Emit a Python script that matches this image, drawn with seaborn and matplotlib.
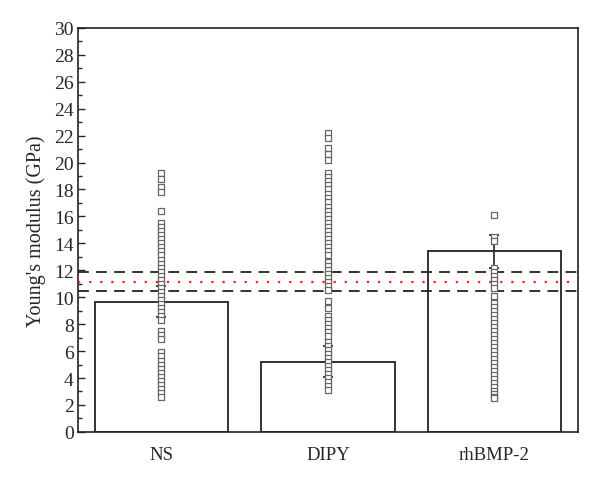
import matplotlib
matplotlib.use('Agg')
from matplotlib import pyplot as plt
from matplotlib.ticker import MultipleLocator
import pandas as pd
import seaborn as sns

groups = ['NS', 'DIPY', 'rhBMP-2']
means = [9.65, 5.2, 13.4]
errors = [1.15, 1.15, 1.2]

ns_vals = [19.2, 18.8, 18.2, 17.8, 16.4, 15.5, 15.2, 14.9, 14.6, 14.3, 14.0,
           13.7, 13.4, 13.1, 12.8, 12.5, 12.2, 11.9, 11.6, 11.3, 11.0, 10.7,
           10.4, 10.1, 9.8, 9.5, 9.2, 8.9, 8.6, 8.3, 7.5, 7.2, 6.9, 5.9, 5.6,
           5.3, 5.0, 4.7, 4.4, 4.1, 3.8, 3.5, 3.2, 2.9, 2.6]
dipy_vals = [22.2, 21.8, 21.1, 20.6, 20.2, 19.2, 18.9, 18.6, 18.3, 18.0, 17.7,
             17.4, 17.1, 16.7, 16.4, 16.1, 15.8, 15.5, 15.2, 14.9, 14.6, 14.3,
             14.0, 13.7, 13.4, 13.1, 12.6, 12.3, 12.0, 11.7, 11.4, 11.1, 10.8,
             10.5, 9.7, 9.2, 8.6, 8.3, 8.0, 7.7, 7.4, 7.1, 6.7, 6.4, 6.1, 5.8,
             5.5, 5.2, 4.9, 4.6, 4.3, 4.0, 3.7, 3.4, 3.1]
bmp_vals = [16.1, 14.5, 14.2, 12.2, 11.9, 11.6, 11.3, 11.0, 10.7, 10.1, 9.6,
            9.3, 9.0, 8.7, 8.4, 8.1, 7.8, 7.5, 7.2, 6.9, 6.6, 6.3, 6.0, 5.7,
            5.4, 5.1, 4.8, 4.5, 4.2, 3.9, 3.6, 3.3, 3.0, 2.8, 2.6, 2.5]

ref_lines = [11.9, 10.45]
ref_mid = 11.15

bars = pd.DataFrame({'group': groups, 'mean': means, 'err': errors})
pts = pd.DataFrame({
    'group': ['NS'] * len(ns_vals) + ['DIPY'] * len(dipy_vals) + ['rhBMP-2'] * len(bmp_vals),
    'value': ns_vals + dipy_vals + bmp_vals,
})

sns.set_style('ticks')
plt.rcParams['font.family'] = ['Liberation Serif', 'DejaVu Serif']

fig, ax = plt.subplots(figsize=(6, 4.81), dpi=100)
fig.subplots_adjust(left=0.13, right=0.963, top=0.94, bottom=0.1)

sns.barplot(data=bars, x='group', y='mean', order=groups, color='white',
            edgecolor='#222222', linewidth=1.3, width=0.8, errorbar=None, ax=ax)

for y in ref_lines:
    ax.axhline(y, color='#222222', lw=1.3, ls=(0, (6, 4)), zorder=3)
ax.axhline(ref_mid, color='#ff2010', lw=1.6, ls=(0, (1, 4)), zorder=3)

ax.errorbar(x=range(len(groups)), y=bars['mean'], yerr=bars['err'], fmt='none',
            ecolor='#333333', elinewidth=1.3, capsize=3.5, capthick=1.3, zorder=4)

sns.stripplot(data=pts, x='group', y='value', order=groups, jitter=False,
              marker='s', size=4.3, color='white', edgecolor='#666666',
              linewidth=0.9, ax=ax, zorder=5)

ax.set_xlim(-0.5, 2.5)
ax.set_ylim(0, 30)
ax.yaxis.set_major_locator(MultipleLocator(2))
ax.yaxis.set_minor_locator(MultipleLocator(1))
ax.tick_params(axis='y', which='major', direction='in', length=5, width=1,
               labelsize=14, pad=3)
ax.tick_params(axis='y', which='minor', direction='in', length=3, width=1)
ax.tick_params(axis='x', length=0, labelsize=13.5, pad=10)
for s in ax.spines.values():
    s.set_visible(True)
    s.set_linewidth(1.2)
    s.set_color('#222222')

ax.set_xlabel('')
ax.set_ylabel("Young's modulus (GPa)", fontsize=14.5, labelpad=6)

fig.savefig('out.png', dpi=100)
